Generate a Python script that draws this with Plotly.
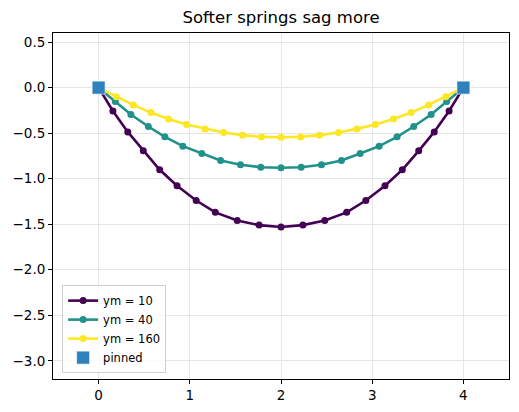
import plotly.graph_objects as go

# Half-chain node positions (x from 0 to the midpoint 2), mirrored for the right half
x10_half = [0.0, 0.157, 0.32, 0.49, 0.67, 0.86, 1.07, 1.28, 1.52, 1.76, 2.0]
y10_half = [0.0, -0.256, -0.486, -0.694, -0.902, -1.077, -1.24, -1.37, -1.46, -1.51, -1.53]
x40_half = [0.0, 0.183, 0.354, 0.545, 0.727, 0.924, 1.132, 1.337, 1.556, 1.779, 2.0]
y40_half = [0.0, -0.153, -0.296, -0.427, -0.54, -0.643, -0.723, -0.80, -0.848, -0.874, -0.88]
x160_half = [0.0, 0.194, 0.38, 0.573, 0.767, 0.964, 1.169, 1.37, 1.578, 1.786, 2.0]
y160_half = [0.0, -0.099, -0.19, -0.274, -0.344, -0.405, -0.453, -0.493, -0.522, -0.541, -0.545]

labels = ["ym = 10", "ym = 40", "ym = 160"]
colors = ["#440154", "#21918c", "#fde725"]
pinned_x = [0.0, 4.0]
pinned_y = [0.0, 0.0]
span = 4.0


def full(xh, yh):
    xs = list(xh) + [span - v for v in reversed(xh[:-1])]
    ys = list(yh) + list(reversed(yh[:-1]))
    return xs, ys


fig = go.Figure()
for (xh, yh), lab, col in zip([(x10_half, y10_half), (x40_half, y40_half), (x160_half, y160_half)], labels, colors):
    xs, ys = full(xh, yh)
    fig.add_trace(go.Scatter(x=xs, y=ys, mode="lines+markers", name=lab,
                             line=dict(color=col, width=2.6),
                             marker=dict(color=col, size=7)))

fig.add_trace(go.Scatter(x=pinned_x, y=pinned_y, mode="markers", name="pinned",
                         marker=dict(symbol="square", size=13, color="#3080bd",
                                     line=dict(color="rgba(255,255,255,0.6)", width=1))))

axis_common = dict(showline=True, linecolor="black", linewidth=1, mirror=True,
                   ticks="outside", ticklen=4, tickcolor="black",
                   showgrid=True, gridcolor="#e6e6e6", gridwidth=1, zeroline=False,
                   tickfont=dict(family="DejaVu Sans", size=13.5, color="black"))

fig.update_layout(
    width=519, height=412,
    margin=dict(l=53, r=10, t=33, b=33),
    paper_bgcolor="white", plot_bgcolor="white",
    font=dict(family="DejaVu Sans", color="black"),
    title=dict(text="Softer springs sag more", x=0.5, xanchor="center",
               xref="paper", y=1, yref="container", yanchor="top", pad=dict(t=11),
               font=dict(size=16.5, family="DejaVu Sans", color="black")),
    xaxis=dict(range=[-0.5, 4.5], tickvals=[0, 1, 2, 3, 4], **axis_common),
    yaxis=dict(range=[-3.2, 0.6], tickvals=[0.5, 0, -0.5, -1.0, -1.5, -2.0, -2.5, -3.0],
               tickformat=".1f", **axis_common),
    legend=dict(x=0.02, y=0.017, xanchor="left", yanchor="bottom",
                bgcolor="rgba(255,255,255,0.8)", bordercolor="#d0d0d0", borderwidth=1,
                font=dict(size=11.5, family="DejaVu Sans"), tracegroupgap=0,
                itemwidth=30),
    showlegend=True,
)

fig.write_html("out.html")
